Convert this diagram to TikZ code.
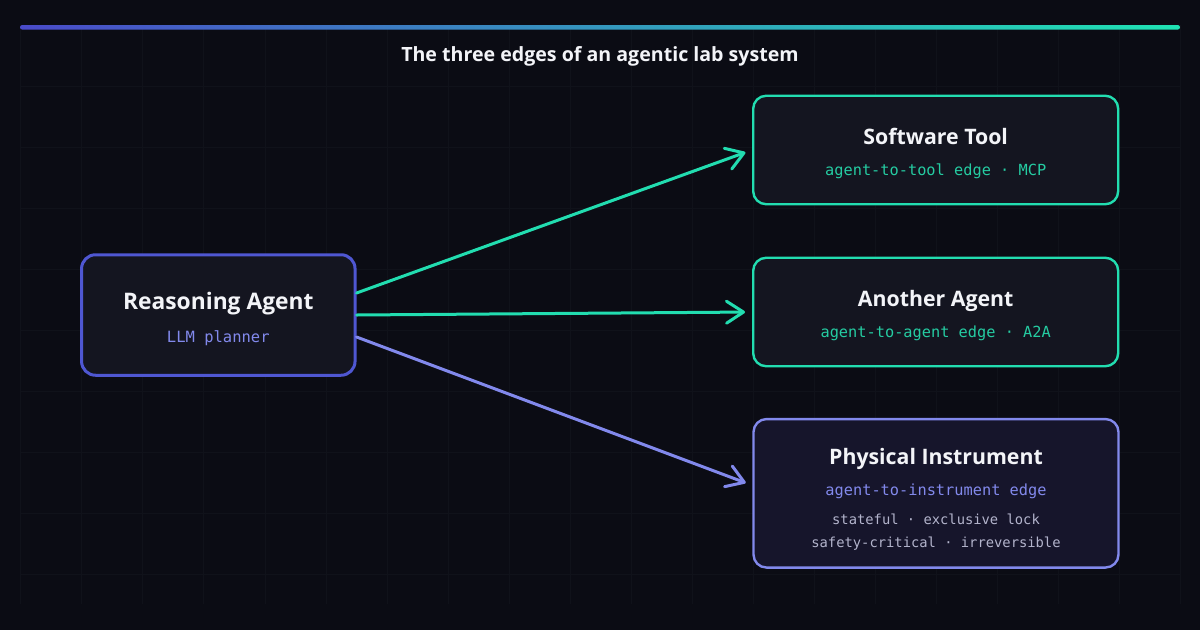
\documentclass[tikz,border=0pt]{standalone}
\usepackage{fontspec}
\setmainfont{Open Sans}
\setsansfont{Open Sans}
\setmonofont{DejaVu Sans Mono}
\usetikzlibrary{arrows.meta}
\definecolor{canvas}{HTML}{0B0C14}
\definecolor{gridline}{HTML}{10121A}
\definecolor{ink}{HTML}{F3F4F8}
\definecolor{muted}{HTML}{B3B4CC}
\definecolor{cardfill}{HTML}{141520}
\definecolor{instfill}{HTML}{16152B}
\definecolor{agentline}{HTML}{4F57D2}
\definecolor{teal}{HTML}{22DDB0}
\definecolor{tealtext}{HTML}{25CCA2}
\definecolor{lavender}{HTML}{8289EC}
\definecolor{barleft}{HTML}{4A4BC9}
\definecolor{barmid}{HTML}{348DC4}
\definecolor{barright}{HTML}{1FE3B3}

\begin{document}
\begin{tikzpicture}[
  x=1pt, y=-1pt,
  font=\sffamily,
  text=ink,
  >={Straight Barb[length=17pt,width=22pt,round]},
  card/.style={
    draw=teal,
    fill=cardfill,
    line width=2.4pt,
    rounded corners=13pt,
    minimum width=365pt,
    minimum height=108.5pt,
    inner sep=0pt
  },
  agentcard/.style={
    card,
    draw=agentline,
    line width=3pt,
    rounded corners=14pt,
    minimum width=273.5pt,
    minimum height=120.5pt
  },
  instcard/.style={
    card,
    draw=lavender,
    fill=instfill,
    minimum height=148.5pt
  },
  cardtitle/.style={anchor=base, inner sep=0pt, font=\sffamily\bfseries\fontsize{21.3}{24}\selectfont},
  cardsub/.style={anchor=base, inner sep=0pt, text=tealtext, font=\ttfamily\fontsize{15.3}{18}\selectfont},
  cardnote/.style={anchor=base, inner sep=0pt, text=muted, font=\ttfamily\fontsize{13.8}{16}\selectfont},
  edge/.style={->, draw=teal, line width=3pt, line cap=round, shorten >=7pt}
]

% Canvas, faint grid and header bar
\fill[canvas] (0,0) rectangle (1200,630);
\foreach \k in {0,...,19}
  \draw[gridline, line width=0.8pt] (20.7+61.05*\k,25) -- (20.7+61.05*\k,604);
\foreach \k in {1,...,9}
  \draw[gridline, line width=0.8pt] (20,25+61*\k) -- (1180,25+61*\k);
\shade[left color=barleft, middle color=barmid, right color=barright, rounded corners=2.3pt]
  (20,25) rectangle (1180,29.6);
\node[anchor=base, inner sep=0pt, font=\sffamily\bfseries\fontsize{19.6}{22}\selectfont] (heading) at (600,61.7)
  {The three edges of an agentic lab system};

% Cards
\node[agentcard] (agent) at (218.3,315) {};
\node[card] (tool) at (935.7,150) {};
\node[card] (peer) at (935.7,312) {};
\node[instcard] (inst) at (936,493.3) {};

\node[cardtitle, font=\sffamily\bfseries\fontsize{22.8}{26}\selectfont] (agenttitle) at (218.3,309) {Reasoning Agent};
\node[cardsub, text=lavender, font=\ttfamily\fontsize{15.5}{18}\selectfont] (agentsub) at (218.3,342.7) {LLM planner};

\node[cardtitle] (tooltitle) at (935.7,144.3) {Software Tool};
\node[cardsub] (toolsub) at (935.7,175) {agent-to-tool edge · MCP};

\node[cardtitle] (peertitle) at (935.7,306.3) {Another Agent};
\node[cardsub] (peersub) at (935.7,337) {agent-to-agent edge · A2A};

\node[cardtitle] (insttitle) at (936,464.3) {Physical Instrument};
\node[cardsub, text=lavender] (instsub) at (936,495.7) {agent-to-instrument edge};
\node[cardnote] (instnote) at (936,524.3) {stateful · exclusive lock};
\node[cardnote] (instrisk) at (936,547) {safety-critical · irreversible};

% The three edges leave the agent card side by side.
\draw[edge] ([yshift=22pt]agent.east) -- (tool.west);
\draw[edge] (agent.east) -- (peer.west);
\draw[edge, draw=lavender] ([yshift=-22pt]agent.east) -- ([yshift=8pt]inst.west);

\end{tikzpicture}
\end{document}
